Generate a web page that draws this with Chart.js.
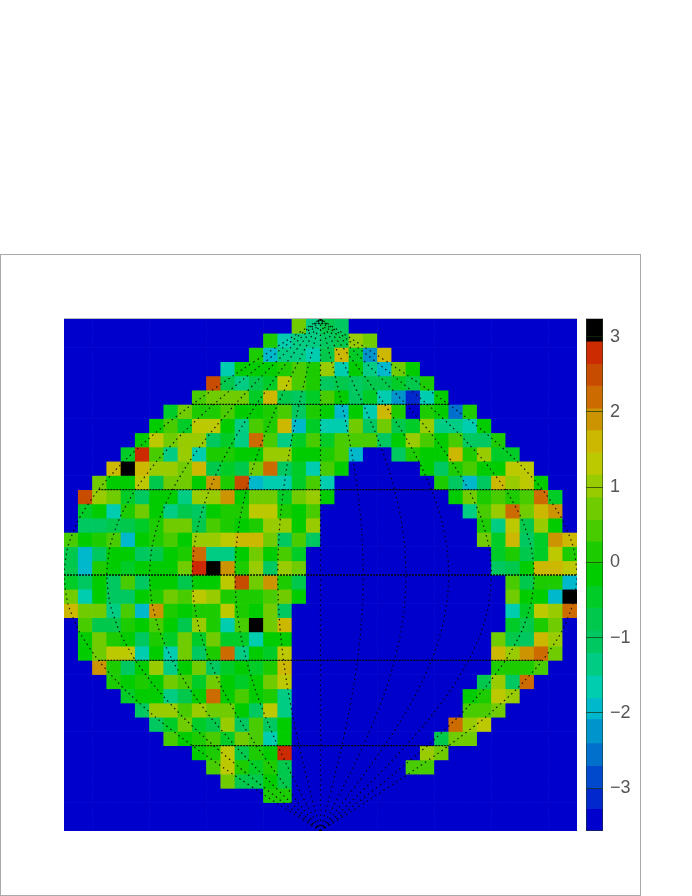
<!DOCTYPE html>
<html><head><meta charset="utf-8">
<style>
html,body{margin:0;padding:0;background:#fff;}
#page{position:relative;width:692px;height:896px;overflow:hidden;}
#frame{position:absolute;left:0;top:254px;width:639px;height:640px;border:1px solid #aaa;}
#main{position:absolute;left:64px;top:319px;width:513px;height:512px;}
#bar{position:absolute;left:586px;top:319px;width:54px;height:512px;}
#topline{position:absolute;left:64px;top:318px;width:513px;height:1px;background:#bbb;}
#barline{position:absolute;left:586px;top:318px;width:17px;height:513px;box-sizing:border-box;border:1px solid rgba(30,60,30,.55);border-top-color:#bbb;}
</style></head><body>
<div id="page">
<div id="frame"></div>
<div id="topline"></div>
<div id="main"><canvas id="c1" width="513" height="512"></canvas></div>
<div id="bar"><canvas id="c2" width="54" height="512"></canvas></div>
<div id="barline"></div>
</div>
<script src="https://cdn.jsdelivr.net/npm/chart.js@4"></script>
<script>
// Palette, top band to bottom band
const paletteColors = ['#000000','#cc2a00','#c84c00','#cc6c00','#cc9400','#ccb800','#bcc800','#98cc00','#70cc00','#48cc00','#1ccc00','#00cc00','#00cc28','#00c84c','#00c860','#00cc84','#00ccb0','#00b8cc','#0094cc','#0070cc','#0048cc','#0028cc','#0000cc'];
const paletteEdges = [3.235,2.94,2.64,2.35,2.05,1.76,1.46,1.17,0.87,0.57,0.28,-0.02,-0.31,-0.6,-0.9,-1.2,-1.5,-1.8,-2.08,-2.4,-2.7,-3.0,-3.27,-3.57];
const tickValues = [-3,-2,-1,0,1,2,3];
const emptyValue = -3.4;

// Each row: first filled column, then its values (top row first)
const rowStart = [16,14,13,11,10,9,7,6,5,4,3,2,1,1,1,0,0,0,0,0,0,1,1,1,2,3,4,5,6,7,9,10,11,14];
const rows = [
[0.7,-1.4,-0.8,-1.0],
[0.1,-1.7,-1.4,-1.4,-1.1,-0.8,1.0,0.7],
[0.1,-2.0,-1.5,-1.4,-1.7,-0.8,1.6,-0.5,-2.2,1.6],
[-1.7,-0.2,-0.2,-0.2,0.1,0.4,0.1,1.0,-1.7,-0.2,-1.4,-1.9,0.7,-0.1],
[2.5,-0.8,-1.4,-0.8,-0.5,1.3,0.4,0.1,-1.1,-0.8,-1.2,-0.8,-0.8,-0.5,-0.8,0.1],
[0.4,0.7,0.7,0.7,-0.5,1.6,-0.8,-1.1,-0.5,0.4,-0.2,-1.1,-0.5,-1.7,-2.2,-3.1,-1.7,-0.2],
[-0.5,0.7,0.1,0.1,0.4,-0.2,-0.2,0.1,0.4,-1.1,0.1,-0.2,-1.9,-0.2,-1.7,1.6,0.1,-3.4,0.1,-0.2,-2.7,0.1],
[-0.2,0.4,-0.5,1.3,1.3,-0.2,-1.4,0.4,0.1,1.6,-2.0,-0.5,-1.7,-1.7,0.7,-1.1,0.7,-0.8,-0.5,1.0,-1.4,-1.4,-1.7,-0.1],
[-0.2,1.3,0.7,1.0,1.0,-1.1,-0.5,-1.4,2.2,0.4,-1.4,-0.5,0.4,-0.5,0.4,0.4,0.4,-1.1,-0.2,1.0,0.4,-0.2,0.4,-1.1,-1.1,0.1],
[-0.5,2.8,0.4,-1.4,1.0,-1.7,0.1,0.1,-0.2,-0.2,1.0,1.0,-0.2,-0.2,0.1,0.4,-1.9,-3.4,-3.4,-1.1,0.1,-0.1,-0.1,1.6,0.1,1.0,-0.5,-0.5],
[1.6,3.1,1.6,1.0,1.0,0.7,1.6,-0.8,-0.5,-0.8,0.7,2.2,-1.1,-0.5,-1.7,0.4,-0.1,-3.4,-3.4,-3.4,-3.4,-3.4,-0.2,-1.1,0.1,0.4,-0.1,-0.1,1.3,1.3],
[0.7,-0.2,-0.2,1.3,-0.8,0.7,0.7,-0.2,1.9,0.1,2.5,-2.0,-1.8,-1.7,-0.5,0.4,-1.7,-3.4,-3.4,-3.4,-3.4,-3.4,-3.4,-3.4,0.1,-1.1,-2.0,-1.1,1.6,1.0,1.3,-0.1],
[2.5,1.0,0.7,-0.5,-1.2,-0.2,-0.2,-1.4,1.0,1.0,1.9,-0.2,0.7,0.7,-0.5,0.7,1.0,-0.2,-3.4,-3.4,-3.4,-3.4,-3.4,-3.4,-3.4,-3.4,-0.2,0.7,0.1,0.4,0.1,0.4,2.2,-0.5],
[-0.5,-0.2,-1.7,0.1,0.7,-0.2,-1.4,-0.8,-1.1,-0.2,0.1,0.1,1.3,1.3,0.1,-0.2,0.4,-3.4,-3.4,-3.4,-3.4,-3.4,-3.4,-3.4,-3.4,-3.4,-3.4,-1.4,0.4,1.0,2.2,0.7,1.6,1.9],
[-1.1,-1.2,-0.8,-0.8,-0.5,0.1,0.7,0.7,-0.8,0.4,0.1,-0.2,0.1,1.0,1.0,-0.2,1.0,-3.4,-3.4,-3.4,-3.4,-3.4,-3.4,-3.4,-3.4,-3.4,-3.4,-3.4,0.1,-1.4,1.3,-0.8,1.0,-0.1],
[0.4,-0.1,0.1,0.4,-2.0,-0.1,0.1,0.4,-0.2,1.0,1.0,1.3,1.6,1.6,0.7,-1.1,0.4,-1.1,-3.4,-3.4,-3.4,-3.4,-3.4,-3.4,-3.4,-3.4,-3.4,-3.4,-3.4,0.7,-0.5,1.6,-1.1,-0.5,1.9,1.6],
[-0.8,-1.9,-1.1,-0.2,-0.2,-1.1,-0.8,-0.2,0.1,2.2,-1.5,-1.5,-0.2,0.7,-0.2,0.4,-0.5,-3.4,-3.4,-3.4,-3.4,-3.4,-3.4,-3.4,-3.4,-3.4,-3.4,-3.4,-3.4,-3.4,-0.5,0.1,-0.8,-0.5,1.3,0.1],
[-0.8,-1.9,0.1,-0.2,-0.4,-0.2,-0.2,-0.2,0.7,2.8,3.1,1.9,0.1,1.0,-1.1,1.0,0.7,-3.4,-3.4,-3.4,-3.4,-3.4,-3.4,-3.4,-3.4,-3.4,-3.4,-3.4,-3.4,-3.4,-1.1,-0.8,-0.2,1.6,1.6,1.3],
[-0.5,-1.1,-0.2,-1.1,0.4,-1.1,-0.2,-0.1,-0.8,-0.2,-0.2,1.3,2.5,0.7,1.9,0.1,-0.8,-3.4,-3.4,-3.4,-3.4,-3.4,-3.4,-3.4,-3.4,-3.4,-3.4,-3.4,-3.4,-3.4,-3.4,0.4,-0.8,0.1,0.1,-1.9],
[0.7,-1.7,-0.2,-1.1,-1.1,-0.2,0.1,0.7,0.4,1.3,1.0,0.1,0.1,0.1,0.4,0.7,-0.2,-3.4,-3.4,-3.4,-3.4,-3.4,-3.4,-3.4,-3.4,-3.4,-3.4,-3.4,-3.4,-3.4,-3.4,0.7,-0.2,-0.1,-2.0,3.1],
[1.6,0.7,0.7,-1.4,0.4,-2.0,1.9,0.1,-0.1,0.1,0.1,1.3,0.1,-0.3,0.7,-1.1,-3.4,-3.4,-3.4,-3.4,-3.4,-3.4,-3.4,-3.4,-3.4,-3.4,-3.4,-3.4,-3.4,-3.4,-3.4,-1.7,-0.5,1.3,1.0,2.2],
[0.4,-0.8,-0.8,0.1,-0.2,0.4,-0.2,-0.8,1.0,0.1,-1.7,0.4,3.1,0.7,1.6,-3.4,-3.4,-3.4,-3.4,-3.4,-3.4,-3.4,-3.4,-3.4,-3.4,-3.4,-3.4,-3.4,-3.4,-3.4,-0.5,-0.8,0.1,0.7],
[-0.2,0.7,0.1,-0.2,-1.1,0.1,-0.5,0.7,-0.5,0.7,-0.5,-0.5,-1.7,-0.2,-0.2,-3.4,-3.4,-3.4,-3.4,-3.4,-3.4,-3.4,-3.4,-3.4,-3.4,-3.4,-3.4,-3.4,-3.4,0.7,-0.8,-1.1,1.6,1.0],
[-0.2,0.7,1.3,1.4,-1.7,-0.2,-1.8,0.7,-1.1,0.1,2.2,-1.4,-0.2,-0.5,1.3,-3.4,-3.4,-3.4,-3.4,-3.4,-3.4,-3.4,-3.4,-3.4,-3.4,-3.4,-3.4,-3.4,-3.4,1.6,1.0,1.9,2.2,0.7],
[1.9,0.1,-1.1,-0.2,1.0,-1.4,-0.2,0.7,-1.1,-0.5,-0.2,-0.5,0.1,1.6,-3.4,-3.4,-3.4,-3.4,-3.4,-3.4,-3.4,-3.4,-3.4,-3.4,-3.4,-3.4,-3.4,-3.4,0.1,0.1,0.1,0.4],
[0.1,-0.2,0.1,-0.2,0.7,0.4,-0.5,0.7,-0.2,-0.5,-0.1,0.7,1.3,-3.4,-3.4,-3.4,-3.4,-3.4,-3.4,-3.4,-3.4,-3.4,-3.4,-3.4,-3.4,-3.4,-0.8,1.0,-1.1,2.2],
[-0.5,-0.2,-0.2,-1.4,-0.8,-0.2,2.2,-0.2,0.4,-0.1,0.1,-1.4,-3.4,-3.4,-3.4,-3.4,-3.4,-3.4,-3.4,-3.4,-3.4,-3.4,-3.4,-3.4,-0.2,0.1,1.3,1.0],
[-1.1,1.0,1.0,0.4,1.0,0.7,0.7,-0.2,-1.1,1.3,-1.4,-3.4,-3.4,-3.4,-3.4,-3.4,-3.4,-3.4,-3.4,-3.4,-3.4,-3.4,-3.4,0.4,0.4,0.7],
[-1.1,-0.5,0.7,-0.5,-0.8,1.0,-1.1,0.4,-1.1,-0.2,-3.4,-3.4,-3.4,-3.4,-3.4,-3.4,-3.4,-3.4,-3.4,-3.4,-3.4,2.2,1.0,1.3],
[0.4,-0.2,0.1,0.4,-0.5,0.7,0.4,-1.7,-0.1,-3.4,-3.4,-3.4,-3.4,-3.4,-3.4,-3.4,-3.4,-3.4,-3.4,-0.8,0.7,0.7],
[-0.1,0.1,1.4,-0.8,0.1,-0.2,2.8,-3.4,-3.4,-3.4,-3.4,-3.4,-3.4,-3.4,-3.4,-3.4,1.0,0.7],
[0.4,1.3,0.1,-0.5,0.1,-0.8,-3.4,-3.4,-3.4,-3.4,-3.4,-3.4,-3.4,-3.4,0.4,0.4],
[0.7,-0.8,-0.9,-0.3,-0.8],
[0.1,0.1]
];
const gridSize = 36;
const columns = Array.from({length:gridSize},(_,i)=>String(i));

// Graticule: latitude, relative width of the map there
const graticuleLat = [-90,-80,-70,-60,-50,-40,-30,-20,-10,0,10,20,30,40,50,60,70,80,90];
const graticuleWidth = [0,0.174,0.342,0.5,0.643,0.766,0.866,0.94,0.985,1,0.985,0.94,0.866,0.766,0.643,0.5,0.342,0.174,0];
const meridianLon = [-180,-150,-120,-90,-60,-30,0,30,60,90,120,150,180];
const parallelLat = [-60,-30,0,30,60];
const parallelWidth = [0.5,0.866,1,0.866,0.5];

function colorOf(v){
  for(let i=0;i<paletteColors.length;i++){ if(v>=paletteEdges[i+1]) return paletteColors[i]; }
  return paletteColors[paletteColors.length-1];
}
const datasets=[];
for(let r=0;r<gridSize;r++){
  const vals=new Array(gridSize).fill(emptyValue);
  if(r<rows.length){ rows[r].forEach((v,i)=>{vals[rowStart[r]+i]=v;}); }
  datasets.push({type:'bar',order:2,grouped:false,barPercentage:1,categoryPercentage:1,
    data:vals.map(()=>[gridSize-1-r,gridSize-r]),
    backgroundColor:vals.map(colorOf),borderWidth:0,xAxisID:'x',yAxisID:'y'});
}
meridianLon.forEach(lon=>{
  datasets.push({type:'line',order:1,xAxisID:'lon',yAxisID:'lat',borderColor:'rgba(0,0,0,.85)',borderWidth:1.2,borderDash:[1.5,3.5],pointRadius:0,tension:0.2,fill:false,
    data:graticuleLat.map((lat,i)=>({x:lon*graticuleWidth[i],y:lat}))});
});
parallelLat.forEach((lat,i)=>{
  datasets.push({type:'line',order:1,xAxisID:'lon',yAxisID:'lat',borderColor:'rgba(0,0,0,.9)',borderWidth:1.4,borderDash:[2,1],pointRadius:0,fill:false,
    data:[{x:-180*parallelWidth[i],y:lat},{x:180*parallelWidth[i],y:lat}]});
});
const noLegend={legend:{display:false},tooltip:{enabled:false}};
new Chart(document.getElementById('c1'),{
  data:{labels:columns,datasets},
  options:{responsive:false,animation:false,layout:{padding:0},plugins:noLegend,
    scales:{
      x:{type:'category',display:false,offset:true},
      y:{type:'linear',display:false,min:0,max:gridSize},
      lon:{type:'linear',display:false,min:-180,max:180,axis:'x'},
      lat:{type:'linear',display:false,min:-90,max:90,axis:'y'}
    }}
});
new Chart(document.getElementById('c2'),{
  type:'bar',
  data:{labels:['z'],datasets:paletteColors.map((c,i)=>({grouped:false,barPercentage:1,categoryPercentage:1,backgroundColor:c,borderWidth:0,
    data:[[paletteEdges[i+1],paletteEdges[i]]]}))},
  options:{responsive:false,animation:false,layout:{padding:0},plugins:noLegend,
    scales:{
      x:{display:false,offset:true},
      y:{position:'right',type:'linear',offset:false,min:-3.57,max:3.235,beginAtZero:false,
        afterBuildTicks:s=>{s.ticks=tickValues.map(v=>({value:v}));},
        afterFit:s=>{s.width=37;s.paddingTop=0;s.paddingBottom=0;},
        border:{display:false},
        grid:{offset:false,color:'rgba(20,50,20,.7)',lineWidth:1,z:1,drawTicks:false,tickLength:0},
        ticks:{padding:7,autoSkip:false,color:'#555',font:{family:'"Liberation Sans"',size:18,weight:'normal'},
          callback:v=>v<0?'\u2212'+Math.abs(v):String(v)}
      }
    }}
});
</script>
</body></html>
